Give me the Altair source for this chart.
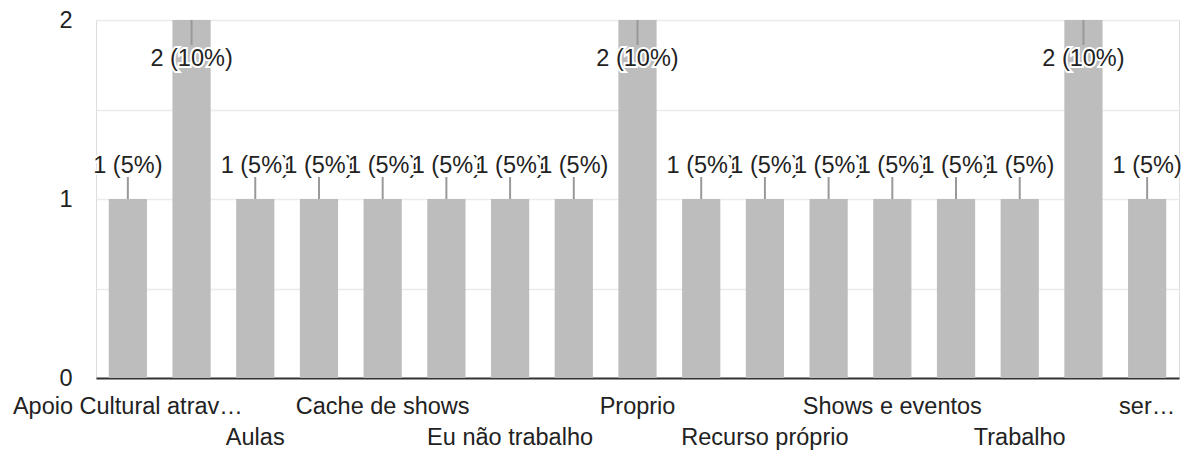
import json
import altair as alt
import pandas as pd

# Categories in display order (hidden labels are not shown in the reference)
categories = [
    "Apoio Cultural atrav…", "(rótulo oculto 2)", "Aulas", "(rótulo oculto 4)",
    "Cache de shows", "(rótulo oculto 6)", "Eu não trabalho", "(rótulo oculto 8)",
    "Proprio", "(rótulo oculto 10)", "Recurso próprio", "(rótulo oculto 12)",
    "Shows e eventos", "(rótulo oculto 14)", "Trabalho", "(rótulo oculto 16)",
    "ser…",
]
values = [1, 2, 1, 1, 1, 1, 1, 1, 2, 1, 1, 1, 1, 1, 1, 2, 1]
# axis label row for each category: 0 = hidden, 1 = first row, 2 = second row
label_rows = [1, 0, 2, 0, 1, 0, 2, 0, 1, 0, 2, 0, 1, 0, 2, 0, 1]
y_ticks = [0, 0.5, 1, 1.5, 2]

FONT = "Liberation Sans"
BAR = "#bdbdbd"
TXT = "#222222"

df = pd.DataFrame({"cat": categories, "value": values})

cats_js = json.dumps(categories, ensure_ascii=False)
rows_js = json.dumps(label_rows)
x_label_expr = (
    f"{rows_js}[indexof({cats_js}, datum.value)] == 1 ? datum.label : "
    f"({rows_js}[indexof({cats_js}, datum.value)] == 2 ? ['', datum.label] : '')"
)

x_enc = alt.X(
    "cat:N",
    sort=categories,
    scale=alt.Scale(paddingInner=0.4, paddingOuter=0.2),
    axis=alt.Axis(
        title=None, ticks=False, labelAngle=0, labelOverlap=False,
        labelLimit=600, labelFont=FONT, labelFontSize=23.5, labelColor=TXT,
        labelPadding=16, labelLineHeight=31, labelExpr=x_label_expr,
        domainColor="#333333", domainWidth=2,
    ),
)
y_scale = alt.Scale(domain=[0, 2], nice=False)

base = alt.Chart(df).transform_joinaggregate(
    total="sum(value)", vmax="max(value)"
).transform_calculate(
    txt="datum.value + ' (' + round(datum.value / datum.total * 100) + '%)'"
)

bars = base.mark_bar(color=BAR).encode(
    x=x_enc,
    y=alt.Y(
        "value:Q", scale=y_scale,
        axis=alt.Axis(
            title=None, values=y_ticks, ticks=False, domain=False,
            grid=True, gridColor="#ebebeb", gridWidth=1.5, labelOverlap=False,
            labelExpr="datum.value % 1 == 0 ? format(datum.value, 'd') : ''",
            labelFont=FONT, labelFontSize=23.5, labelColor=TXT, labelPadding=24,
        ),
    ),
)

outside = base.transform_filter("datum.value < datum.vmax")
inside = base.transform_filter("datum.value >= datum.vmax")

rule_out = outside.mark_rule(color="#999999", strokeWidth=2, y2Offset=-22).encode(
    x=alt.X("cat:N", sort=categories), y=alt.Y("value:Q", scale=y_scale), y2="value:Q"
)
rule_in = inside.mark_rule(color="#999999", strokeWidth=2, y2Offset=25).encode(
    x=alt.X("cat:N", sort=categories), y=alt.Y("value:Q", scale=y_scale), y2="value:Q"
)


def labels(src, dy):
    return src.transform_calculate(kinds="['halo', 'text']").transform_flatten(
        ["kinds"]
    ).mark_text(font=FONT, fontSize=23.5, baseline="alphabetic", dy=dy).encode(
        x=alt.X("cat:N", sort=categories),
        y=alt.Y("value:Q", scale=y_scale),
        text="txt:N",
        fill=alt.condition("datum.kinds == 'halo'", alt.value("white"), alt.value(TXT)),
        stroke=alt.condition("datum.kinds == 'halo'", alt.value("white"), alt.value("transparent")),
        strokeWidth=alt.condition("datum.kinds == 'halo'", alt.value(4), alt.value(0)),
    )


chart = alt.layer(
    bars, rule_out, rule_in, labels(outside, -26), labels(inside, 46)
).properties(
    width=1083, height=358,
    autosize=alt.AutoSizeParams(type="none"),
    padding={"left": 88, "top": 12, "right": 3, "bottom": 73},
).configure_view(stroke="#ebebeb", strokeWidth=1.5).configure(background="white")

chart.save("out.html", embed_options={"renderer": "svg", "actions": False})
